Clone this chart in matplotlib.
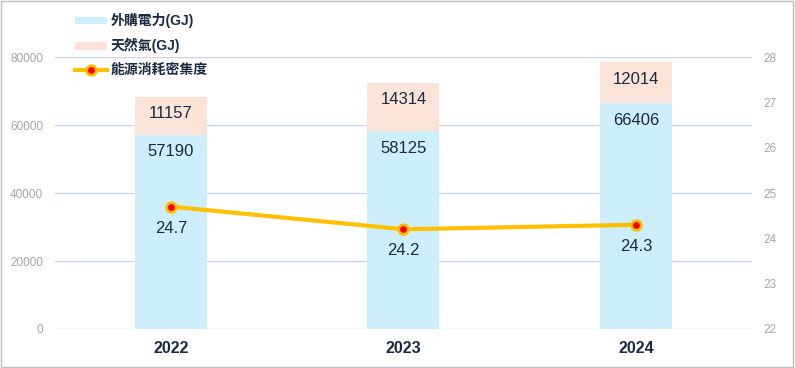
import matplotlib
matplotlib.use('Agg')
import matplotlib.pyplot as plt
from matplotlib.patches import Patch
from matplotlib.lines import Line2D

plt.rcParams['font.family'] = ['Arial', 'Liberation Sans', 'Noto Sans CJK TC', 'DejaVu Sans']

years = ['2022', '2023', '2024']
electricity = [57190, 58125, 66406]
gas = [11157, 14314, 12014]
intensity = [24.7, 24.2, 24.3]

blue = '#CDEEFB'
peach = '#FCE3D8'
gold = '#FFC000'
navy = '#1B2A3E'
grey = '#A6A6A6'
grid = '#C8D5E8'

fig = plt.figure(figsize=(7.95, 3.68), dpi=100)
fig.patches.append(plt.Rectangle((0.001, 0.002), 0.997, 0.995, transform=fig.transFigure,
                                 fill=False, edgecolor='#BDBDBD', linewidth=1))
ax = fig.add_axes([0.069, 0.106, 0.877, 0.739])
ax2 = ax.twinx()

x = range(len(years))
w = 0.31
ax.bar(x, electricity, w, color=blue, zorder=2)
ax.bar(x, gas, w, bottom=electricity, color=peach, zorder=2)

# value labels sit a little under the top of each segment
for i in x:
    ax.annotate(str(electricity[i]), (i, electricity[i]), xytext=(0, -12.2),
                textcoords='offset points', ha='center', va='center',
                fontsize=12, color=navy, zorder=4)
    ax.annotate(str(gas[i]), (i, electricity[i] + gas[i]), xytext=(0, -12.2),
                textcoords='offset points', ha='center', va='center',
                fontsize=12, color=navy, zorder=4)

ax.set_ylim(0, 80000)
ax.set_yticks(range(0, 80001, 20000))
ax.set_xlim(-0.5, 2.5)
ax.set_xticks(list(x))
ax.set_xticklabels(years, fontsize=11.5, fontweight='bold', color=navy)
ax.yaxis.grid(True, color=grid, linewidth=1, zorder=0)
ax.set_axisbelow(True)
ax.tick_params(axis='y', length=0, labelsize=8.5, labelcolor=grey, pad=8.5)
ax.tick_params(axis='x', length=0, pad=9)

ax2.plot(list(x), intensity, color=gold, linewidth=3, marker='o', markersize=7,
         markerfacecolor='#FF0000', markeredgecolor=gold, markeredgewidth=2, zorder=5)
for i in x:
    ax2.annotate(f'{intensity[i]}', (i, intensity[i]), xytext=(0, -15.5),
                 textcoords='offset points', ha='center', va='center',
                 fontsize=12, color=navy)
ax2.set_ylim(22, 28)
ax2.set_yticks(range(22, 29))
ax2.tick_params(axis='y', length=0, labelsize=8.5, labelcolor=grey, pad=8)

for a in (ax, ax2):
    for s in a.spines.values():
        s.set_visible(False)

handles = [
    Patch(facecolor=blue, edgecolor='none'),
    Patch(facecolor=peach, edgecolor='none'),
    Line2D([0], [0], color=gold, linewidth=3, marker='o', markersize=7,
           markerfacecolor='#FF0000', markeredgecolor=gold, markeredgewidth=2),
]
labels = ['外購電力(GJ)', '天然氣(GJ)', '能源消耗密集度']
leg = fig.legend(handles, labels, loc='upper left', bbox_to_anchor=(0.082, 0.99),
                 frameon=False, handlelength=2.3, handleheight=0.5,
                 labelspacing=0.7, handletextpad=0.3, borderaxespad=0.3,
                 prop={'size': 10, 'weight': 'bold'})
for t in leg.get_texts():
    t.set_color(navy)

fig.savefig('out.png', dpi=100)
